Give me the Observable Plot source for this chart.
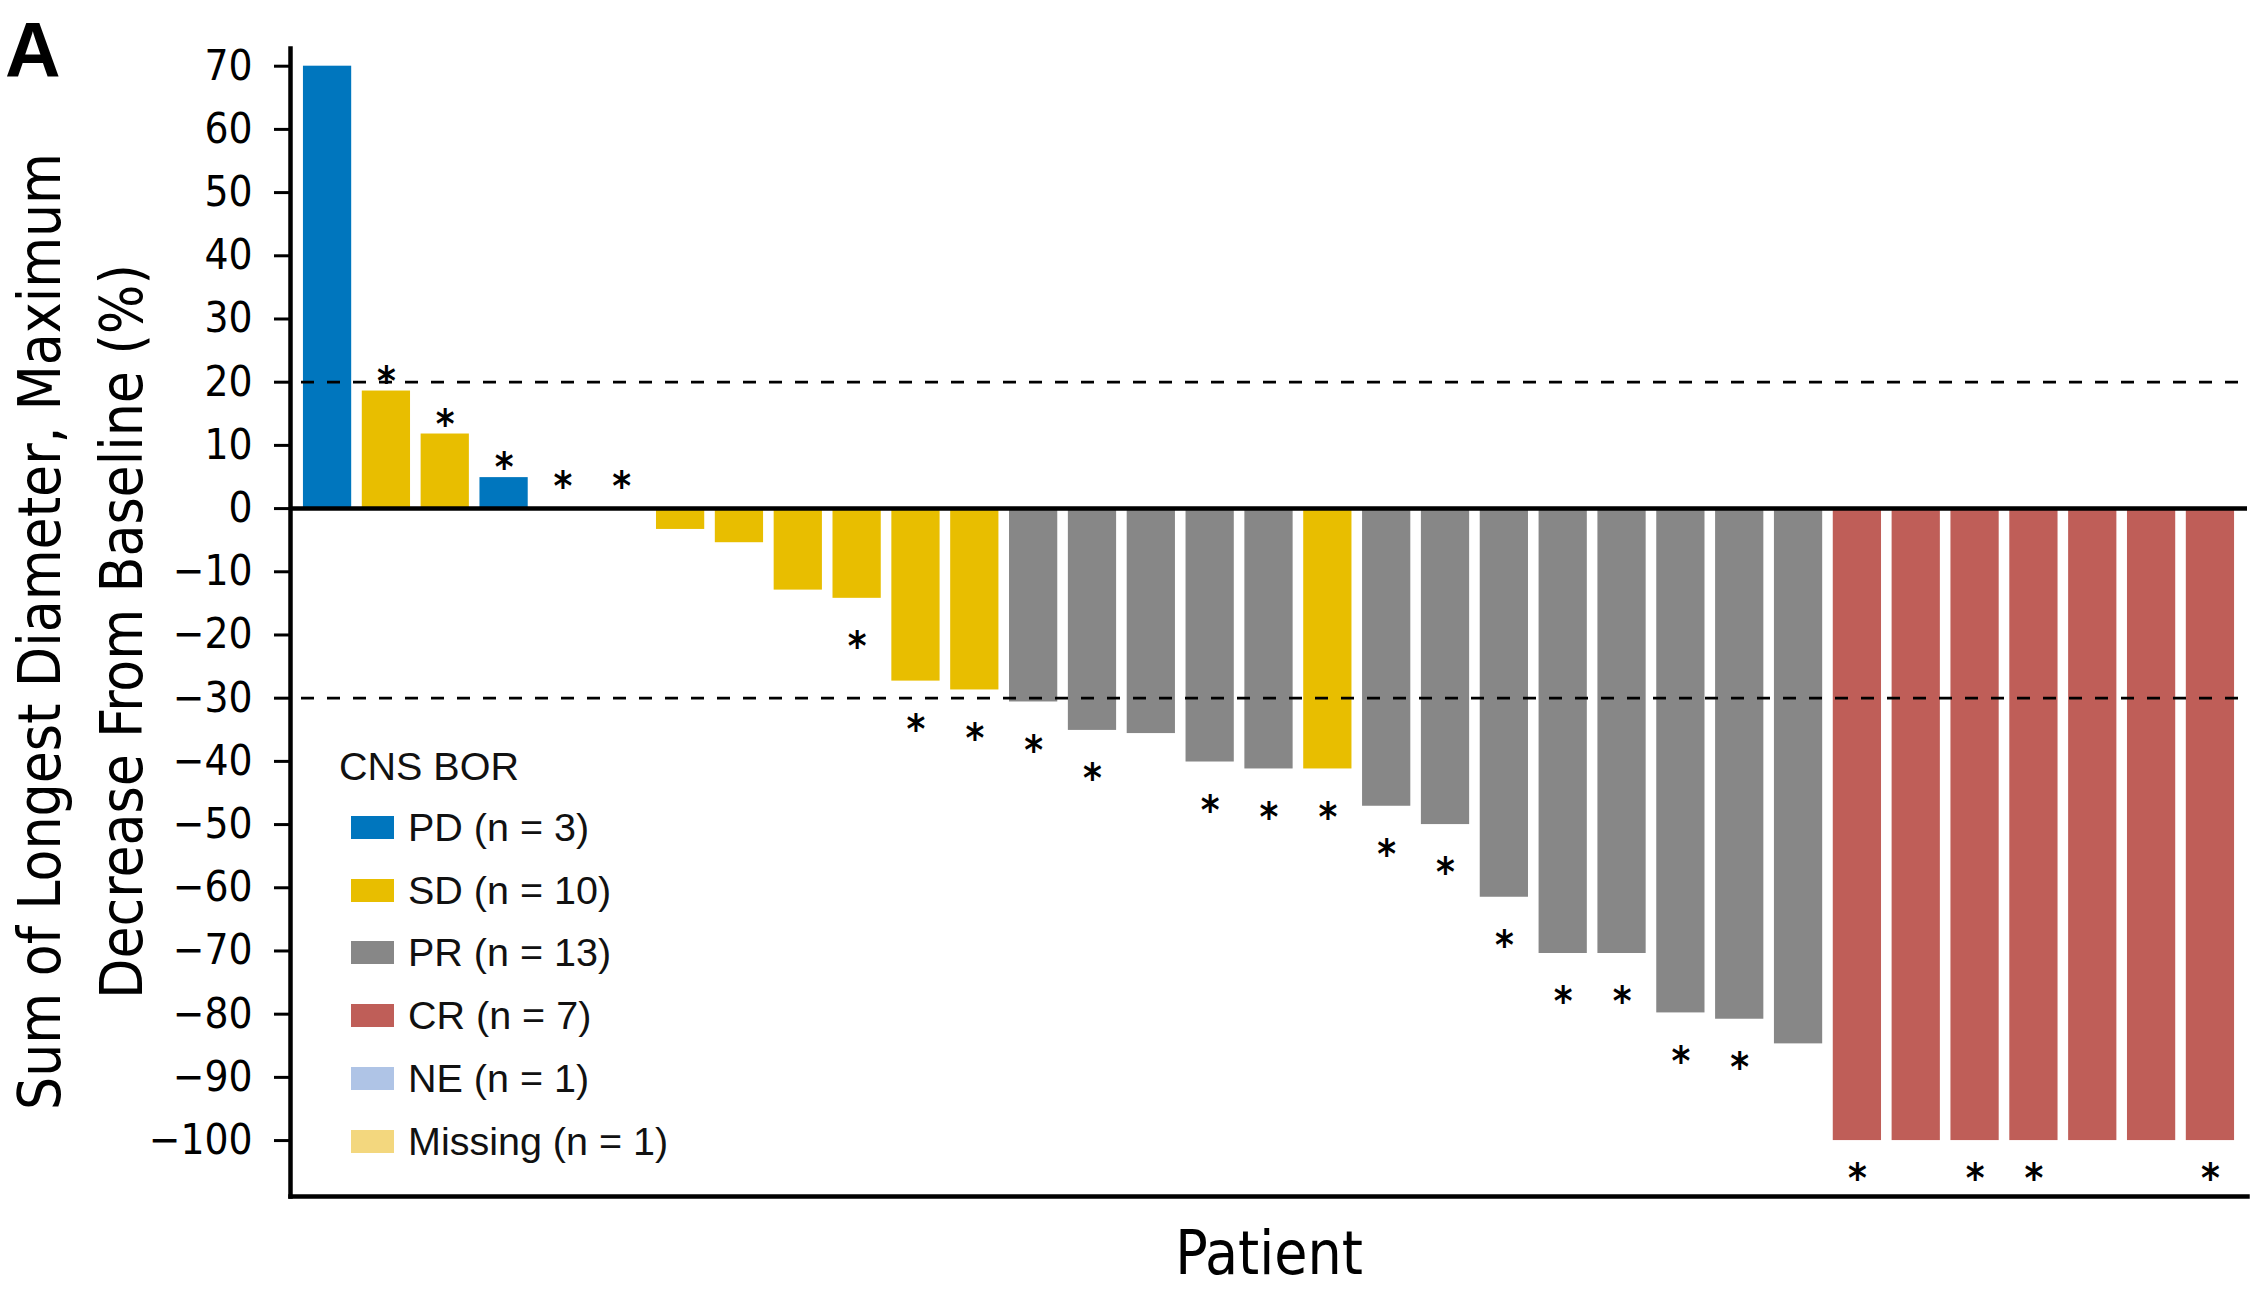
<!DOCTYPE html>
<html>
<head>
<meta charset="utf-8">
<script src="https://cdn.jsdelivr.net/npm/d3@7"></script>
<script src="https://cdn.jsdelivr.net/npm/@observablehq/plot@0.6"></script>
<style>
  html, body { margin: 0; padding: 0; background: #fff; }
  #wrap { position: relative; width: 2263px; height: 1290px; overflow: hidden; }
  #panel { position: absolute; left: 5px; top: 12px; font-family: "Liberation Sans", Arial, sans-serif; font-weight: bold; font-size: 77px; line-height: 1; color: #000; }
  #legend { position: absolute; left: 339px; top: 740px; font-family: "Liberation Sans", Arial, sans-serif; font-size: 39.5px; color: #111; }
  #legend .title { height: 56px; line-height: 52px; }
  #legend .row { display: flex; align-items: center; height: 62.8px; margin-left: 12px; }
  #legend .sw { width: 43px; height: 23px; margin-right: 14px; }
</style>
</head>
<body>
<div id="wrap">
  <div id="panel">A</div>
  <div id="legend"></div>
</div>
<script>
// ---- data ----
const patients = d3.range(1, 34).map(String);
const response = ["PD","SD","SD","PD","PD","SD","SD","SD","SD","SD","SD","SD",
                  "PR","PR","PR","PR","PR","SD","PR","PR","PR","PR","PR","PR","PR","PR",
                  "CR","CR","CR","CR","CR","CR","CR"];
const change = [70, 18.6, 11.8, 4.9, 0, 0, -3.3, -5.4, -12.9, -14.2, -27.3, -28.7,
                -30.6, -35.1, -35.6, -40.1, -41.2, -41.2, -47.1, -50.0, -61.5, -70.4, -70.4, -79.8, -80.8, -84.7,
                -100, -100, -100, -100, -100, -100, -100];
const asterisk = [0,1,1,1,1,1,0,0,0,1,1,1,
                  1,1,0,1,1,1,1,1,1,1,1,1,1,0,
                  1,0,1,1,0,0,1];
const categories = ["PD","SD","PR","CR","NE","Missing"];
const counts = [3, 10, 13, 7, 1, 1];
const colors = ["#0076BE","#E8BE00","#878787","#BF5E58","#AFC4E6","#F3D77E"];
const yTicks = [70,60,50,40,30,20,10,0,-10,-20,-30,-40,-50,-60,-70,-80,-90,-100];
const thresholds = [20, -30];
const yTitle = "Sum of Longest Diameter, Maximum\nDecrease From Baseline (%)";
const xTitle = "Patient";
const legendTitle = "CNS BOR";

const rows = patients.map((p, i) => ({p, bor: response[i], v: change[i], star: asterisk[i]}));
const starPos = d => d.v > 0 ? d.v + 3.2 : d.v === 0 ? 5.2 : d.v <= -100 ? d.v - 4.4 : d.v - 6;
const condensed = '"Liberation Sans Narrow", "DejaVu Sans Condensed", "Roboto Condensed", "Liberation Sans", sans-serif';

const chart = Plot.plot({
  width: 2263,
  height: 1290,
  marginLeft: 290,
  marginRight: 16,
  marginTop: 48,
  marginBottom: 94,
  style: {background: "transparent", fontFamily: condensed, color: "#000"},
  x: {type: "band", domain: patients, paddingInner: 0.18, paddingOuter: 0.22, round: false, axis: null},
  y: {domain: [-108.85, 72.8], axis: null},
  color: {domain: categories, range: colors},
  marks: [
    Plot.barY(rows, {x: "p", y: "v", fill: "bor"}),
    Plot.ruleY(thresholds, {stroke: "#000", strokeWidth: 2.8, strokeDasharray: "13,13", insetLeft: 11, insetRight: 3}),
    Plot.ruleY([0], {stroke: "#000", strokeWidth: 4.5}),
    Plot.axisY({ticks: yTicks, tickSize: 16, tickPadding: 22, strokeWidth: 3, fontSize: 42, label: null,
                tickFormat: d => d < 0 ? "\u2212" + Math.abs(d) : String(d)}),
    Plot.frame({anchor: "left", stroke: "#000", strokeWidth: 4.5}),
    Plot.frame({anchor: "bottom", stroke: "#000", strokeWidth: 4.5}),
    Plot.text(rows.filter(d => d.star), {x: "p", y: starPos, text: () => "*", fontSize: 40, fontWeight: "bold", dy: 11, fill: "#000"}),
    Plot.text([yTitle], {frameAnchor: "left", textAnchor: "middle", rotate: -90, dx: -216, dy: 9, fontSize: 58, lineHeight: 1.42, fill: "#000"}),
    Plot.text([xTitle], {frameAnchor: "bottom", dy: 77, fontSize: 60, fill: "#000"})
  ]
});
document.getElementById("wrap").prepend(chart);
chart.style.position = "absolute";
chart.style.left = "0";
chart.style.top = "0";

// ---- legend ----
const leg = document.getElementById("legend");
const t = document.createElement("div");
t.className = "title";
t.textContent = legendTitle;
leg.appendChild(t);
categories.forEach((c, i) => {
  const r = document.createElement("div");
  r.className = "row";
  const sw = document.createElement("div");
  sw.className = "sw";
  sw.style.background = colors[i];
  const lab = document.createElement("span");
  lab.textContent = `${c} (n = ${counts[i]})`;
  r.appendChild(sw);
  r.appendChild(lab);
  leg.appendChild(r);
});
</script>
</body>
</html>
